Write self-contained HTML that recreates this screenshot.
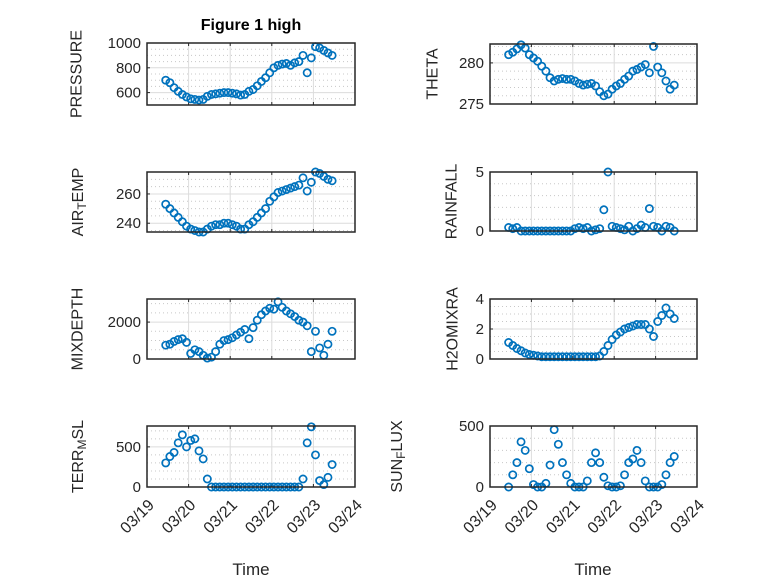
<!DOCTYPE html>
<html><head><meta charset="utf-8"><style>
body{margin:0;background:#fff}
svg{display:block;font-family:"Liberation Sans","DejaVu Sans",sans-serif}
</style></head><body>
<svg id="fig" width="778" height="583" viewBox="0 0 778 583" xmlns="http://www.w3.org/2000/svg">
<rect width="778" height="583" fill="#fff"/>
<text x="251" y="30" text-anchor="middle" font-size="16" font-weight="bold" fill="#000">Figure 1 high</text>
</svg>
<script>
const times = [];
for (let i = 0; i < 41; i++) times.push(0.45 + i * 0.1);
const pressure = [700,680,640,610,585,565,550,545,540,545,570,585,590,595,600,600,595,590,580,585,610,625,655,690,720,760,800,820,830,835,820,840,850,900,760,880,970,960,940,920,900];
const theta = [281,281.3,281.7,282.2,281.8,281,280.6,280.2,279.6,279,278.2,277.8,278,278.1,278,278,277.8,277.5,277.3,277.4,277.5,277.2,276.5,276,276.2,276.8,277.2,277.5,278,278.4,279,279.2,279.5,279.8,278.8,282,279.5,278.8,277.8,276.8,277.3];
const airTemp = [253,250,247,244,241,238,236,235,234,234,236,238,239,239,240,240,239,238,236,236,239,241,244,247,250,255,258,261,262,263,264,265,266,271,262,268,275,274,272,270,269];
const rainfall = [0.3,0.2,0.3,0,0,0,0,0,0,0,0,0,0,0,0,0,0.2,0.3,0.2,0.3,0,0.1,0.2,1.8,5,0.4,0.3,0.2,0.1,0.4,0,0.2,0.5,0.3,1.9,0.4,0.3,0,0.4,0.3,0];
const mixDepth = [750,800,950,1050,1100,900,300,500,400,200,50,100,400,800,1000,1050,1150,1300,1450,1600,1100,1700,2100,2400,2600,2750,2700,3100,2800,2600,2450,2300,2100,2000,1800,400,1500,600,200,800,1500];
const h2oMix = [1.1,0.9,0.7,0.55,0.4,0.3,0.25,0.2,0.15,0.15,0.15,0.15,0.15,0.15,0.15,0.15,0.15,0.15,0.15,0.15,0.15,0.15,0.2,0.5,0.9,1.3,1.6,1.8,2.0,2.1,2.2,2.3,2.3,2.3,2.0,1.5,2.5,2.9,3.4,3.0,2.7];
const terrMsl = [300,380,430,550,650,500,580,600,450,350,100,0,0,0,0,0,0,0,0,0,0,0,0,0,0,0,0,0,0,0,0,0,0,100,550,750,400,80,30,120,280];
const sunFlux = [0,100,200,370,300,150,20,0,0,30,180,470,350,200,100,30,0,0,0,50,200,280,200,80,10,0,0,10,100,200,230,300,200,50,0,0,0,20,100,200,250];
const xTickLabels = ['03/19','03/20','03/21','03/22','03/23','03/24'];

const NS = 'http://www.w3.org/2000/svg';
const svg = document.getElementById('fig');
function mk(tag, attrs, parent) {
  const e = document.createElementNS(NS, tag);
  for (const k in attrs) e.setAttribute(k, attrs[k]);
  (parent || svg).appendChild(e);
  return e;
}
const panels = [
  {name:'pressure', data:pressure, x0:147, x1:355, y0:43, y1:105, ymin:500, ymax:1000, ticks:[600,800,1000], minor:50, label:['PRESSURE'], lx:77},
  {name:'theta', data:theta, x0:490, x1:697, y0:44, y1:104, ymin:275, ymax:282.3, ticks:[275,280], minor:1, label:['THETA'], lx:433},
  {name:'air-temp', data:airTemp, x0:147, x1:355, y0:172, y1:232, ymin:234, ymax:275, ticks:[240,260], minor:5, label:['AIR','T','EMP'], lx:78},
  {name:'rainfall', data:rainfall, x0:490, x1:697, y0:172, y1:231, ymin:0, ymax:5, ticks:[0,5], minor:1, label:['RAINFALL'], lx:452},
  {name:'mixdepth', data:mixDepth, x0:147, x1:355, y0:299, y1:359, ymin:0, ymax:3250, ticks:[0,2000], minor:500, label:['MIXDEPTH'], lx:78},
  {name:'h2o-mixratio', data:h2oMix, x0:490, x1:697, y0:299, y1:359, ymin:0, ymax:4, ticks:[0,2,4], minor:0.5, label:['H2OMIXRA'], lx:453},
  {name:'terr-msl', data:terrMsl, x0:147, x1:355, y0:426, y1:487, ymin:0, ymax:760, ticks:[0,500], minor:100, label:['TERR','M','SL'], lx:78, bottom:true, tx:251},
  {name:'sun-flux', data:sunFlux, x0:490, x1:697, y0:426, y1:487, ymin:0, ymax:500, ticks:[0,500], minor:100, label:['SUN','F','LUX'], lx:397, bottom:true, tx:593}
];
panels.forEach(p => {
  const g = mk('g', {});
  
  
  const xs = t => p.x0 + (t / 5) * (p.x1 - p.x0);
  const ys = v => p.y1 - (v - p.ymin) / (p.ymax - p.ymin) * (p.y1 - p.y0);
  for (let v = Math.ceil(p.ymin / p.minor) * p.minor; v < p.ymax; v += p.minor) {
    if (p.ticks.some(t => Math.abs(t - v) < 1e-9)) continue;
    const l = mk('line', {x1:p.x0, x2:p.x1, y1:ys(v), y2:ys(v), stroke:'#c8c8c8', 'stroke-width':1, 'stroke-dasharray':'1 3'}, g);
    
    
  }
  for (let d = 1; d < 5; d++) {
    const l = mk('line', {x1:xs(d), x2:xs(d), y1:p.y0, y2:p.y1, stroke:'#dcdcdc', 'stroke-width':1}, g);
    
    
  }
  p.ticks.forEach(v => {
    const l = mk('line', {x1:p.x0, x2:p.x1, y1:ys(v), y2:ys(v), stroke:'#dcdcdc', 'stroke-width':1}, g);
    
    
    const tk = mk('line', {x1:p.x0, x2:p.x0 + 3, y1:ys(v), y2:ys(v), stroke:'#262626'}, g);
    
    
    const t = mk('text', {x:p.x0 - 6, y:ys(v) + 5, 'text-anchor':'end', 'font-size':15, fill:'#262626'}, g);
    
    
    t.textContent = String(v);
  });
  for (let d = 0; d <= 5; d++) {
    const tk = mk('line', {x1:xs(d), x2:xs(d), y1:p.y1, y2:p.y1 - 3, stroke:'#262626'}, g);
    
    
    const tk2 = mk('line', {x1:xs(d), x2:xs(d), y1:p.y0, y2:p.y0 + 3, stroke:'#262626'}, g);
    
    
    if (p.bottom) {
      const x = xs(d) + 8, y = p.y1 + 19;
      const t = mk('text', {x:x, y:y, 'text-anchor':'end', 'font-size':16, fill:'#262626', transform:'rotate(-45 ' + x + ' ' + y + ')'}, g);
      
      
      t.textContent = xTickLabels[d];
    }
  }
  p.data.forEach((v, i) => {
    const c = mk('circle', {cx:xs(times[i]), cy:ys(v), r:3.6, fill:'none', stroke:'#0072BD', 'stroke-width':1.7}, g);
    
    
  });
  const b = mk('rect', {x:p.x0, y:p.y0, width:p.x1 - p.x0, height:p.y1 - p.y0, fill:'none', stroke:'#262626', 'stroke-width':1.5}, g);
  
  
  const cy = (p.y0 + p.y1) / 2;
  const yl = mk('text', {x:p.lx, y:cy, 'text-anchor':'middle', 'dominant-baseline':'central', 'font-size':16, fill:'#262626', transform:'rotate(-90 ' + p.lx + ' ' + cy + ')'}, g);
  
  
  if (p.label.length === 1) yl.textContent = p.label[0];
  else {
    const a = mk('tspan', {}, yl); a.textContent = p.label[0];
    const s = mk('tspan', {'baseline-shift':'-30%', 'font-size':12}, yl); s.textContent = p.label[1];
    const c2 = mk('tspan', {'baseline-shift':'0%'}, yl); c2.textContent = p.label[2];
  }
  if (p.bottom) {
    const xt = mk('text', {x:p.tx, y:575, 'text-anchor':'middle', 'font-size':17, fill:'#262626'}, g);
    
    
    xt.textContent = 'Time';
  }
});
</script>
</body></html>
